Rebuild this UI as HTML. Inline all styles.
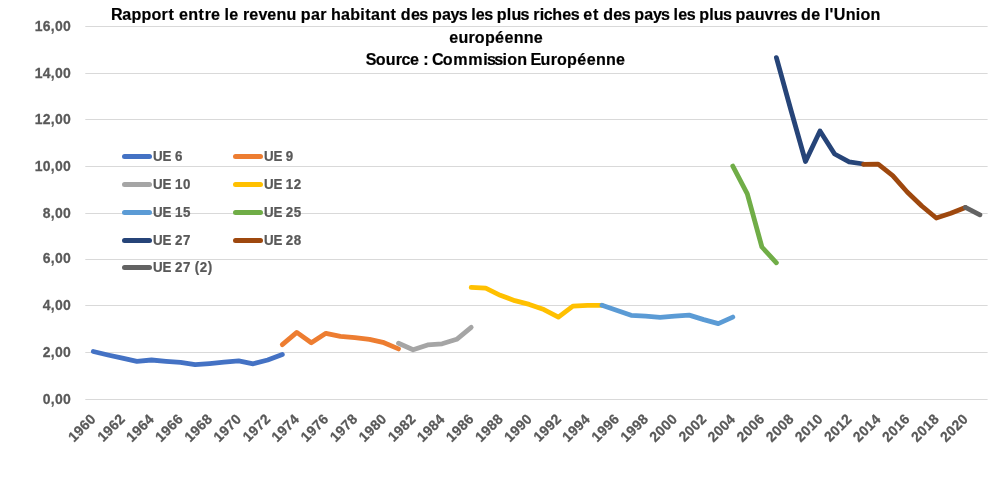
<!DOCTYPE html>
<html lang="fr"><head><meta charset="utf-8"><title>Rapport UE</title>
<style>html,body{margin:0;padding:0;background:#fff}svg{display:block}text{font-family:'Liberation Sans',sans-serif;font-weight:bold;white-space:pre}</style></head><body>
<svg width="990" height="500" viewBox="0 0 990 500">
<rect x="0" y="0" width="990" height="500" fill="#fff"/>
<rect x="85.3" y="26" width="902.3" height="1" fill="#D9D9D9"/>
<rect x="85.3" y="73" width="902.3" height="1" fill="#D9D9D9"/>
<rect x="85.3" y="119" width="902.3" height="1" fill="#D9D9D9"/>
<rect x="85.3" y="166" width="902.3" height="1" fill="#D9D9D9"/>
<rect x="85.3" y="213" width="902.3" height="1" fill="#D9D9D9"/>
<rect x="85.3" y="259" width="902.3" height="1" fill="#D9D9D9"/>
<rect x="85.3" y="305" width="902.3" height="1" fill="#D9D9D9"/>
<rect x="85.3" y="352" width="902.3" height="1" fill="#D9D9D9"/>
<rect x="85.3" y="399" width="902.3" height="1" fill="#D9D9D9"/>
<text transform="translate(34.47 31.10) scale(0.9830 1)" x="0.18 8.43 16.62 20.87 29.12" y="0" font-size="14.2" fill="#595959" stroke="#595959" stroke-width="0.25">16,00</text>
<text transform="translate(34.47 78.10) scale(0.9830 1)" x="0.18 8.43 16.62 20.87 29.12" y="0" font-size="14.2" fill="#595959" stroke="#595959" stroke-width="0.25">14,00</text>
<text transform="translate(34.47 124.10) scale(0.9830 1)" x="0.18 8.43 16.62 20.87 29.12" y="0" font-size="14.2" fill="#595959" stroke="#595959" stroke-width="0.25">12,00</text>
<text transform="translate(34.47 171.10) scale(0.9830 1)" x="0.18 8.43 16.62 20.87 29.12" y="0" font-size="14.2" fill="#595959" stroke="#595959" stroke-width="0.25">10,00</text>
<text transform="translate(42.58 218.10) scale(0.9830 1)" x="0.18 8.38 12.62 20.87" y="0" font-size="14.2" fill="#595959" stroke="#595959" stroke-width="0.25">8,00</text>
<text transform="translate(42.58 263.10) scale(0.9830 1)" x="0.18 8.38 12.62 20.87" y="0" font-size="14.2" fill="#595959" stroke="#595959" stroke-width="0.25">6,00</text>
<text transform="translate(42.58 310.10) scale(0.9830 1)" x="0.18 8.38 12.62 20.87" y="0" font-size="14.2" fill="#595959" stroke="#595959" stroke-width="0.25">4,00</text>
<text transform="translate(42.58 357.10) scale(0.9830 1)" x="0.18 8.38 12.62 20.87" y="0" font-size="14.2" fill="#595959" stroke="#595959" stroke-width="0.25">2,00</text>
<text transform="translate(42.58 404.10) scale(0.9830 1)" x="0.18 8.38 12.62 20.87" y="0" font-size="14.2" fill="#595959" stroke="#595959" stroke-width="0.25">0,00</text>
<text transform="translate(96.47 420.20) rotate(-45) translate(-32.11 0) scale(0.9830 1)" x="0.18 8.43 16.68 24.92" y="0" font-size="14.2" fill="#595959" stroke="#595959" stroke-width="0.25">1960</text>
<text transform="translate(125.55 420.20) rotate(-45) translate(-31.88 0) scale(0.9830 1)" x="0.18 8.43 16.68 24.92" y="0" font-size="14.2" fill="#595959" stroke="#595959" stroke-width="0.25">1962</text>
<text transform="translate(154.62 420.20) rotate(-45) translate(-32.20 0) scale(0.9830 1)" x="0.18 8.43 16.68 24.92" y="0" font-size="14.2" fill="#595959" stroke="#595959" stroke-width="0.25">1964</text>
<text transform="translate(183.69 420.20) rotate(-45) translate(-32.09 0) scale(0.9830 1)" x="0.18 8.43 16.68 24.92" y="0" font-size="14.2" fill="#595959" stroke="#595959" stroke-width="0.25">1966</text>
<text transform="translate(212.76 420.20) rotate(-45) translate(-31.96 0) scale(0.9830 1)" x="0.18 8.43 16.68 24.92" y="0" font-size="14.2" fill="#595959" stroke="#595959" stroke-width="0.25">1968</text>
<text transform="translate(241.83 420.20) rotate(-45) translate(-32.11 0) scale(0.9830 1)" x="0.18 8.43 16.68 24.92" y="0" font-size="14.2" fill="#595959" stroke="#595959" stroke-width="0.25">1970</text>
<text transform="translate(270.91 420.20) rotate(-45) translate(-31.88 0) scale(0.9830 1)" x="0.18 8.43 16.68 24.92" y="0" font-size="14.2" fill="#595959" stroke="#595959" stroke-width="0.25">1972</text>
<text transform="translate(299.98 420.20) rotate(-45) translate(-32.20 0) scale(0.9830 1)" x="0.18 8.43 16.68 24.92" y="0" font-size="14.2" fill="#595959" stroke="#595959" stroke-width="0.25">1974</text>
<text transform="translate(329.05 420.20) rotate(-45) translate(-32.09 0) scale(0.9830 1)" x="0.18 8.43 16.68 24.92" y="0" font-size="14.2" fill="#595959" stroke="#595959" stroke-width="0.25">1976</text>
<text transform="translate(358.12 420.20) rotate(-45) translate(-31.96 0) scale(0.9830 1)" x="0.18 8.43 16.68 24.92" y="0" font-size="14.2" fill="#595959" stroke="#595959" stroke-width="0.25">1978</text>
<text transform="translate(387.19 420.20) rotate(-45) translate(-32.11 0) scale(0.9830 1)" x="0.18 8.43 16.68 24.92" y="0" font-size="14.2" fill="#595959" stroke="#595959" stroke-width="0.25">1980</text>
<text transform="translate(416.27 420.20) rotate(-45) translate(-31.88 0) scale(0.9830 1)" x="0.18 8.43 16.68 24.92" y="0" font-size="14.2" fill="#595959" stroke="#595959" stroke-width="0.25">1982</text>
<text transform="translate(445.34 420.20) rotate(-45) translate(-32.20 0) scale(0.9830 1)" x="0.18 8.43 16.68 24.92" y="0" font-size="14.2" fill="#595959" stroke="#595959" stroke-width="0.25">1984</text>
<text transform="translate(474.41 420.20) rotate(-45) translate(-32.09 0) scale(0.9830 1)" x="0.18 8.43 16.68 24.92" y="0" font-size="14.2" fill="#595959" stroke="#595959" stroke-width="0.25">1986</text>
<text transform="translate(503.48 420.20) rotate(-45) translate(-31.96 0) scale(0.9830 1)" x="0.18 8.43 16.68 24.92" y="0" font-size="14.2" fill="#595959" stroke="#595959" stroke-width="0.25">1988</text>
<text transform="translate(532.55 420.20) rotate(-45) translate(-32.11 0) scale(0.9830 1)" x="0.18 8.43 16.68 24.92" y="0" font-size="14.2" fill="#595959" stroke="#595959" stroke-width="0.25">1990</text>
<text transform="translate(561.63 420.20) rotate(-45) translate(-31.88 0) scale(0.9830 1)" x="0.18 8.43 16.68 24.92" y="0" font-size="14.2" fill="#595959" stroke="#595959" stroke-width="0.25">1992</text>
<text transform="translate(590.70 420.20) rotate(-45) translate(-32.20 0) scale(0.9830 1)" x="0.18 8.43 16.68 24.92" y="0" font-size="14.2" fill="#595959" stroke="#595959" stroke-width="0.25">1994</text>
<text transform="translate(619.77 420.20) rotate(-45) translate(-32.09 0) scale(0.9830 1)" x="0.18 8.43 16.68 24.92" y="0" font-size="14.2" fill="#595959" stroke="#595959" stroke-width="0.25">1996</text>
<text transform="translate(648.84 420.20) rotate(-45) translate(-31.96 0) scale(0.9830 1)" x="0.18 8.43 16.68 24.92" y="0" font-size="14.2" fill="#595959" stroke="#595959" stroke-width="0.25">1998</text>
<text transform="translate(677.91 420.20) rotate(-45) translate(-32.11 0) scale(0.9830 1)" x="0.18 8.43 16.68 24.92" y="0" font-size="14.2" fill="#595959" stroke="#595959" stroke-width="0.25">2000</text>
<text transform="translate(706.99 420.20) rotate(-45) translate(-31.88 0) scale(0.9830 1)" x="0.18 8.43 16.68 24.92" y="0" font-size="14.2" fill="#595959" stroke="#595959" stroke-width="0.25">2002</text>
<text transform="translate(736.06 420.20) rotate(-45) translate(-32.20 0) scale(0.9830 1)" x="0.18 8.43 16.68 24.92" y="0" font-size="14.2" fill="#595959" stroke="#595959" stroke-width="0.25">2004</text>
<text transform="translate(765.13 420.20) rotate(-45) translate(-32.09 0) scale(0.9830 1)" x="0.18 8.43 16.68 24.92" y="0" font-size="14.2" fill="#595959" stroke="#595959" stroke-width="0.25">2006</text>
<text transform="translate(794.20 420.20) rotate(-45) translate(-31.96 0) scale(0.9830 1)" x="0.18 8.43 16.68 24.92" y="0" font-size="14.2" fill="#595959" stroke="#595959" stroke-width="0.25">2008</text>
<text transform="translate(823.27 420.20) rotate(-45) translate(-32.11 0) scale(0.9830 1)" x="0.18 8.43 16.68 24.92" y="0" font-size="14.2" fill="#595959" stroke="#595959" stroke-width="0.25">2010</text>
<text transform="translate(852.35 420.20) rotate(-45) translate(-31.88 0) scale(0.9830 1)" x="0.18 8.43 16.68 24.92" y="0" font-size="14.2" fill="#595959" stroke="#595959" stroke-width="0.25">2012</text>
<text transform="translate(881.42 420.20) rotate(-45) translate(-32.20 0) scale(0.9830 1)" x="0.18 8.43 16.68 24.92" y="0" font-size="14.2" fill="#595959" stroke="#595959" stroke-width="0.25">2014</text>
<text transform="translate(910.49 420.20) rotate(-45) translate(-32.09 0) scale(0.9830 1)" x="0.18 8.43 16.68 24.92" y="0" font-size="14.2" fill="#595959" stroke="#595959" stroke-width="0.25">2016</text>
<text transform="translate(939.56 420.20) rotate(-45) translate(-31.96 0) scale(0.9830 1)" x="0.18 8.43 16.68 24.92" y="0" font-size="14.2" fill="#595959" stroke="#595959" stroke-width="0.25">2018</text>
<text transform="translate(968.63 420.20) rotate(-45) translate(-32.11 0) scale(0.9830 1)" x="0.18 8.43 16.68 24.92" y="0" font-size="14.2" fill="#595959" stroke="#595959" stroke-width="0.25">2020</text>
<text transform="translate(111.63 19.80) scale(0.9250 1)" x="-0.60 11.50 21.42 32.25 43.09 54.03 61.61 67.86 72.80 82.82 93.97 100.56 107.55 117.33 122.09 127.23 137.01 141.91 148.90 158.65 168.32 178.34 189.16 199.76 204.56 215.43 225.45 232.29 237.08 247.96 257.88 268.67 274.16 280.50 290.42 301.56 307.82 312.62 323.59 332.70 341.43 346.22 357.10 366.49 375.17 383.90 388.65 393.79 402.90 411.62 416.42 427.21 432.21 442.12 450.85 455.75 462.78 467.06 476.23 487.20 496.30 505.03 509.97 520.35 526.61 531.41 542.38 551.48 560.21 565.01 575.88 585.27 593.95 602.68 607.44 612.57 621.68 630.41 635.21 646.00 650.99 660.91 669.64 674.43 685.31 695.23 705.89 715.70 722.69 731.80 740.52 745.32 756.29 766.07 770.83 776.02 780.74 793.71 804.50 809.51 820.35" y="0" font-size="17.4" fill="#000" stroke="#000" stroke-width="0.2">Rapport entre le revenu par habitant des pays les plus riches et des pays les plus pauvres de l'Union</text>
<text transform="translate(448.95 43.30) scale(0.9250 1)" x="0.24 10.26 21.19 28.03 38.87 49.84 59.99 70.01 80.84 91.81" y="0" font-size="17.4" fill="#000" stroke="#000" stroke-width="0.2">européenne</text>
<text transform="translate(366.76 64.80) scale(0.9250 1)" x="-1.03 9.65 20.49 31.42 37.49 46.79 56.57 61.16 66.70 70.46 82.19 93.40 109.82 125.82 129.91 137.96 146.88 151.89 162.73 173.32 177.14 187.96 198.89 205.73 216.57 227.54 237.70 247.72 258.55 269.52" y="0" font-size="17.4" fill="#000" stroke="#000" stroke-width="0.2">Source : Commission Européenne</text>
<polyline points="93.3,351.5 107.9,355.0 122.4,358.2 136.9,361.3 151.5,360.0 166.0,361.3 180.5,362.4 195.1,364.7 209.6,363.6 224.1,362.2 238.7,360.9 253.2,363.8 267.7,360.0 282.3,354.4" fill="none" stroke="#4472C4" stroke-width="4.8" stroke-linecap="round" stroke-linejoin="round"/>
<polyline points="282.3,344.7 296.8,332.4 311.3,342.7 325.9,333.3 340.4,336.4 354.9,337.6 369.5,339.3 384.0,342.7 398.5,348.9" fill="none" stroke="#ED7D31" stroke-width="4.8" stroke-linecap="round" stroke-linejoin="round"/>
<polyline points="398.5,343.3 413.1,349.8 427.6,344.9 442.1,343.8 456.7,339.3 471.2,327.3" fill="none" stroke="#A5A5A5" stroke-width="4.8" stroke-linecap="round" stroke-linejoin="round"/>
<polyline points="471.2,287.3 485.7,288.2 500.3,295.3 514.8,300.7 529.3,304.4 543.9,309.6 558.4,317.1 572.9,306.2 587.5,305.3 602.0,305.3" fill="none" stroke="#FFC000" stroke-width="4.8" stroke-linecap="round" stroke-linejoin="round"/>
<polyline points="602.0,305.3 616.5,310.2 631.1,315.3 645.6,316.2 660.1,317.3 674.7,316.2 689.2,315.1 703.7,319.6 718.3,323.6 732.8,317.1" fill="none" stroke="#5B9BD5" stroke-width="4.8" stroke-linecap="round" stroke-linejoin="round"/>
<polyline points="732.8,166.1 747.3,193.9 761.9,247.0 776.4,262.8" fill="none" stroke="#70AD47" stroke-width="4.8" stroke-linecap="round" stroke-linejoin="round"/>
<polyline points="776.4,57.6 790.9,110.0 805.5,161.5 820.0,131.0 834.6,154.0 849.1,161.8 863.6,164.0" fill="none" stroke="#264478" stroke-width="4.8" stroke-linecap="round" stroke-linejoin="round"/>
<polyline points="863.6,164.4 878.2,164.2 892.7,175.6 907.2,192.0 921.8,206.0 936.3,218.0 950.8,213.3 965.4,207.4" fill="none" stroke="#9E480E" stroke-width="4.8" stroke-linecap="round" stroke-linejoin="round"/>
<polyline points="965.4,207.4 979.9,214.8" fill="none" stroke="#636363" stroke-width="4.8" stroke-linecap="round" stroke-linejoin="round"/>
<line x1="124.5" y1="156.5" x2="149.5" y2="156.5" stroke="#4472C4" stroke-width="5" stroke-linecap="round"/>
<text transform="translate(152.72 161.00) scale(0.9400 1)" x="0.43 10.53 19.37 23.63" y="0" font-size="14.2" fill="#595959" stroke="#595959" stroke-width="0.25">UE 6</text>
<line x1="235.5" y1="156.5" x2="260.5" y2="156.5" stroke="#ED7D31" stroke-width="5" stroke-linecap="round"/>
<text transform="translate(263.52 161.00) scale(0.9400 1)" x="0.43 10.53 19.37 23.63" y="0" font-size="14.2" fill="#595959" stroke="#595959" stroke-width="0.25">UE 9</text>
<line x1="124.5" y1="184.4" x2="149.5" y2="184.4" stroke="#A5A5A5" stroke-width="5" stroke-linecap="round"/>
<text transform="translate(152.72 188.90) scale(0.9400 1)" x="0.43 10.53 19.37 23.63 32.25" y="0" font-size="14.2" fill="#595959" stroke="#595959" stroke-width="0.25">UE 10</text>
<line x1="235.5" y1="184.4" x2="260.5" y2="184.4" stroke="#FFC000" stroke-width="5" stroke-linecap="round"/>
<text transform="translate(263.52 188.90) scale(0.9400 1)" x="0.43 10.53 19.37 23.63 32.25" y="0" font-size="14.2" fill="#595959" stroke="#595959" stroke-width="0.25">UE 12</text>
<line x1="124.5" y1="212.5" x2="149.5" y2="212.5" stroke="#5B9BD5" stroke-width="5" stroke-linecap="round"/>
<text transform="translate(152.72 217.00) scale(0.9400 1)" x="0.43 10.53 19.37 23.63 32.25" y="0" font-size="14.2" fill="#595959" stroke="#595959" stroke-width="0.25">UE 15</text>
<line x1="235.5" y1="212.5" x2="260.5" y2="212.5" stroke="#70AD47" stroke-width="5" stroke-linecap="round"/>
<text transform="translate(263.52 217.00) scale(0.9400 1)" x="0.43 10.53 19.37 23.63 32.25" y="0" font-size="14.2" fill="#595959" stroke="#595959" stroke-width="0.25">UE 25</text>
<line x1="124.5" y1="240.4" x2="149.5" y2="240.4" stroke="#264478" stroke-width="5" stroke-linecap="round"/>
<text transform="translate(152.72 244.90) scale(0.9400 1)" x="0.43 10.53 19.37 23.63 32.25" y="0" font-size="14.2" fill="#595959" stroke="#595959" stroke-width="0.25">UE 27</text>
<line x1="235.5" y1="240.4" x2="260.5" y2="240.4" stroke="#9E480E" stroke-width="5" stroke-linecap="round"/>
<text transform="translate(263.52 244.90) scale(0.9400 1)" x="0.43 10.53 19.37 23.63 32.25" y="0" font-size="14.2" fill="#595959" stroke="#595959" stroke-width="0.25">UE 28</text>
<line x1="124.5" y1="267.5" x2="149.5" y2="267.5" stroke="#636363" stroke-width="5" stroke-linecap="round"/>
<text transform="translate(152.72 272.00) scale(0.9400 1)" x="0.43 10.53 19.37 23.63 32.25 40.47 44.65 50.03 58.58" y="0" font-size="14.2" fill="#595959" stroke="#595959" stroke-width="0.25">UE 27 (2)</text>
</svg></body></html>
